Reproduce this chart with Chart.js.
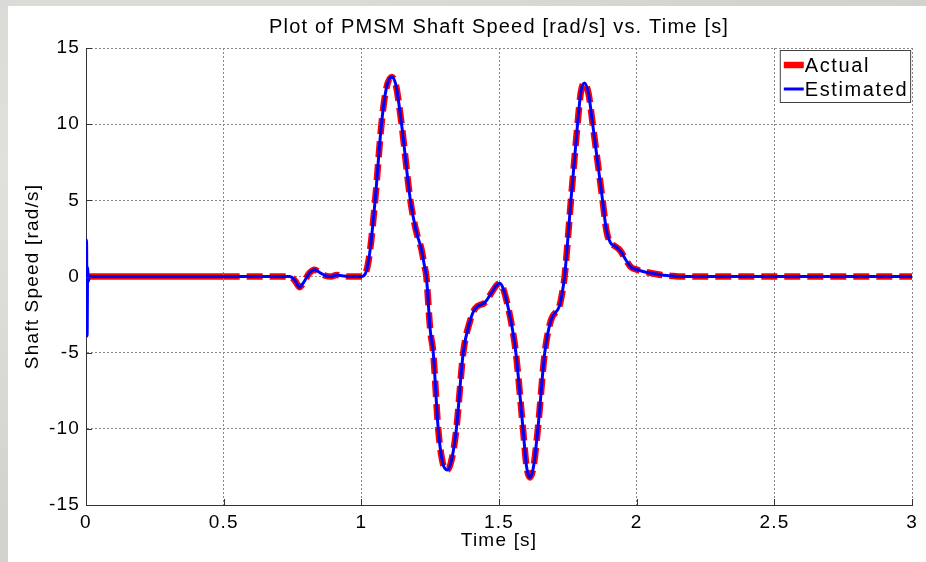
<!DOCTYPE html>
<html>
<head>
    <title>Plot of PMSM Shaft Speed</title>
    <script src="https://cdn.jsdelivr.net/npm/chart.js"></script>
    <style>
        body {
            margin: 0;
            width: 926px;
            height: 562px;
            overflow: hidden;
            background: radial-gradient(ellipse at 20% 30%, #e4e4e0 0%, #d3d3cf 60%, #cfcfcb 100%);
        }
        #wrap {
            position: absolute;
            left: 8px;
            top: 6px;
            width: 918px;
            height: 556px;
            background: #fff;
        }
    </style>
</head>
<body>
    <div id="wrap"><canvas id="speedChart" width="918" height="556"></canvas></div>

    <script>
        // Time [s] and shaft speed [rad/s]
        var time = [0, 0.012, 0.5, 0.74, 0.76, 0.775, 0.79, 0.81, 0.83, 0.85, 0.87, 0.89, 0.91, 0.93, 0.95,
            1.0, 1.015, 1.03, 1.05, 1.073, 1.09, 1.11, 1.125, 1.146, 1.178, 1.2, 1.218, 1.228, 1.236,
            1.25, 1.261, 1.279, 1.295, 1.312, 1.328, 1.345, 1.37, 1.395, 1.413, 1.449, 1.475, 1.49, 1.503,
            1.515, 1.53, 1.543, 1.561, 1.587, 1.6, 1.612, 1.625, 1.641, 1.666, 1.688, 1.72, 1.73, 1.738,
            1.75, 1.761, 1.785, 1.797, 1.81, 1.825, 1.84, 1.876, 1.89, 1.905, 1.92, 1.94, 1.96, 1.98,
            2.0, 2.03, 2.06, 2.09, 2.12, 2.15, 2.5, 3.0];
        var actual = [0, 0, 0, 0, -0.3, -0.7, -0.4, 0.2, 0.45, 0.25, 0.05, 0, 0.1, 0.05, 0,
            0, 0.2, 1.5, 5, 10, 12.3, 13.1, 12.6, 10, 5, 2.9, 1.8, 0.8, 0,
            -3.5, -5, -10, -12.2, -12.7, -12, -10, -5, -2.9, -2.1, -1.7, -1.0, -0.6, -0.45,
            -0.8, -1.8, -2.9, -5, -10, -12.5, -13.2, -12.5, -10, -5, -2.9, -1.9, -1.0, 0,
            2.5, 5, 10, 12.1, 12.7, 12, 10, 5, 3, 2.2, 2.0, 1.7, 1.1, 0.6,
            0.45, 0.3, 0.2, 0.1, 0.05, 0, 0, 0];
        // the estimator's start-up spike
        var startTime = [0, 0.002, 0.004, 0.006, 0.009];
        var startEstimated = [0, 2.4, -3.9, 0.6, -0.3];

        var xTicks = [0, 0.5, 1, 1.5, 2, 2.5, 3];
        var yTicks = [-15, -10, -5, 0, 5, 10, 15];

        var font = "'Liberation Sans', Arial, sans-serif";
        var spacing = '1.2px';

        function points(xs, ys) {
            return xs.map(function(x, i) { return { x: x, y: ys[i] }; });
        }
        var actualPoints = points(time, actual);
        var estimatedPoints = points(startTime, startEstimated).concat(points(time.slice(1), actual.slice(1)));

        // matlab-like inward ticks
        var innerTicks = {
            id: 'innerTicks',
            afterDatasetsDraw: function(chart) {
                var ctx = chart.ctx, a = chart.chartArea;
                var xs = chart.scales.x, ys = chart.scales.y;
                ctx.save();
                ctx.strokeStyle = '#333';
                ctx.lineWidth = 1;
                ctx.beginPath();
                xTicks.forEach(function(v) {
                    var px = Math.round(xs.getPixelForValue(v)) + 0.5;
                    ctx.moveTo(px, a.bottom);
                    ctx.lineTo(px, a.bottom - 6);
                });
                yTicks.forEach(function(v) {
                    var py = Math.round(ys.getPixelForValue(v)) + 0.5;
                    ctx.moveTo(a.left, py);
                    ctx.lineTo(a.left + 6, py);
                });
                ctx.stroke();
                ctx.restore();
            }
        };

        // legend box in the upper right corner of the axes
        var boxLegend = {
            id: 'boxLegend',
            afterDraw: function(chart) {
                var ctx = chart.ctx, a = chart.chartArea;
                var sets = chart.data.datasets;
                ctx.save();
                ctx.letterSpacing = '1.6px';
                ctx.font = '20px ' + font;
                var w = 0;
                sets.forEach(function(d) { w = Math.max(w, ctx.measureText(d.label).width); });
                var boxW = 25 + w + 2, boxH = 52;
                var left = a.right - 2 - boxW, top = a.top + 2;
                ctx.fillStyle = '#fff';
                ctx.fillRect(left, top, boxW, boxH);
                ctx.strokeStyle = '#444';
                ctx.lineWidth = 1;
                ctx.strokeRect(left + 0.5, top + 0.5, boxW, boxH);
                sets.forEach(function(d, i) {
                    var y = top + 15 + i * 24;
                    ctx.strokeStyle = d.borderColor;
                    ctx.lineWidth = d.borderWidth;
                    ctx.beginPath();
                    ctx.moveTo(left + 4, y);
                    ctx.lineTo(left + 24, y);
                    ctx.stroke();
                    ctx.fillStyle = '#000';
                    ctx.textBaseline = 'middle';
                    ctx.fillText(d.label, left + 25, y + 1);
                });
                ctx.restore();
            }
        };

        var letterSpace = {
            id: 'letterSpace',
            beforeUpdate: function(chart) { chart.ctx.letterSpacing = spacing; },
            beforeLayout: function(chart) { chart.ctx.letterSpacing = spacing; },
            beforeDraw: function(chart) { chart.ctx.letterSpacing = spacing; }
        };

        var ctx = document.getElementById('speedChart').getContext('2d');
        var speedChart = new Chart(ctx, {
            type: 'line',
            data: {
                datasets: [{
                    label: 'Actual',
                    data: actualPoints,
                    borderColor: '#ff0000',
                    borderWidth: 6.5,
                    borderDash: [16, 7],
                    segment: {
                        borderDash: function(c) { return c.p0.parsed.x < 0.5 ? [] : [16, 7]; }
                    },
                    pointRadius: 0,
                    cubicInterpolationMode: 'monotone',
                    order: 2
                }, {
                    label: 'Estimated',
                    data: estimatedPoints,
                    borderColor: '#0000ff',
                    borderWidth: 3,
                    pointRadius: 0,
                    cubicInterpolationMode: 'monotone',
                    order: 1
                }]
            },
            options: {
                responsive: false,
                animation: false,
                layout: { padding: { top: 0, left: 0, right: 10, bottom: 12 } },
                plugins: {
                    legend: { display: false },
                    tooltip: { enabled: false },
                    title: {
                        display: true,
                        fullSize: false,
                        text: 'Plot of PMSM Shaft Speed [rad/s] vs. Time [s]',
                        color: '#000',
                        font: { family: font, size: 20, weight: 'normal', lineHeight: 1 },
                        padding: { top: 11, bottom: 11 }
                    }
                },
                scales: {
                    x: {
                        type: 'linear',
                        min: 0,
                        max: 3,
                        afterBuildTicks: function(s) { s.ticks = xTicks.map(function(v) { return { value: v }; }); },
                        ticks: {
                            color: '#000', padding: 8, maxRotation: 0,
                            font: { family: font, size: 19, lineHeight: 1 },
                            callback: function(v) { return String(v); }
                        },
                        grid: { color: '#888', drawTicks: false },
                        border: { display: true, color: '#333', width: 1, dash: [2, 2] },
                        title: {
                            display: true,
                            text: 'Time [s]',
                            color: '#000',
                            font: { family: font, size: 19, lineHeight: 1 },
                            padding: { top: -9, bottom: 0 }
                        }
                    },
                    y: {
                        min: -15,
                        max: 15,
                        afterBuildTicks: function(s) { s.ticks = yTicks.map(function(v) { return { value: v }; }); },
                        afterFit: function(s) { s.width = 78; },
                        ticks: {
                            color: '#000', padding: 6,
                            font: { family: font, size: 19, lineHeight: 1 },
                            callback: function(v) { return String(v); }
                        },
                        grid: { color: '#888', drawTicks: false },
                        border: { display: true, color: '#333', width: 1, dash: [2, 2] },
                        title: {
                            display: true,
                            text: 'Shaft Speed [rad/s]',
                            color: '#000',
                            font: { family: font, size: 19, lineHeight: 1 },
                            padding: { top: 15, bottom: 0 }
                        }
                    }
                }
            },
            plugins: [letterSpace, innerTicks, boxLegend]
        });
    </script>
</body>
</html>
